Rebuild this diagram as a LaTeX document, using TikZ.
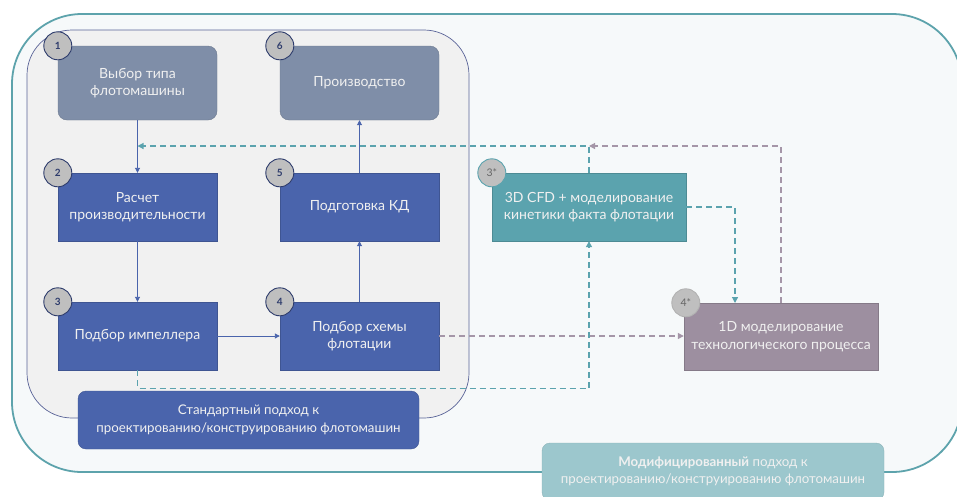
\documentclass[tikz,border=0pt]{standalone}
\usepackage{fontspec}
\setmainfont{Lato}
\usetikzlibrary{arrows.meta,calc}
\definecolor{bluebox}{HTML}{4A64AC}
\definecolor{greybox}{HTML}{7F8EA8}
\definecolor{tealbox}{HTML}{5BA3AE}
\definecolor{mauvebox}{HTML}{9D8FA0}
\definecolor{modbox}{HTML}{9CC7CD}
\definecolor{outerfill}{HTML}{F6F9FA}
\definecolor{outerline}{HTML}{5DA3AC}
\definecolor{innerfill}{HTML}{F1F1F1}
\definecolor{innerline}{HTML}{5A6498}
\definecolor{badgefill}{HTML}{BFBFBF}
\definecolor{badgeline}{HTML}{2E3C6C}
\definecolor{tealdash}{HTML}{5BA3AE}
\definecolor{mauvedash}{HTML}{A596A8}
\begin{document}
\begin{tikzpicture}[x=1pt,y=-1pt,
  box/.style={draw=none,text=white!94!black,align=center,font=\fontsize{14}{17.5}\selectfont,inner sep=0pt},
  labelbox/.style={box,font=\fontsize{13.3}{17.5}\selectfont,rounded corners=8pt,line width=0.4pt},
  stdbox/.style={box,fill=bluebox,draw=bluebox!85!black,line width=0.4pt,minimum width=159pt,minimum height=68pt},
  topbox/.style={box,fill=greybox,draw=greybox!85!black,line width=0.4pt,rounded corners=9pt,minimum width=159pt,minimum height=74pt},
  badge/.style={circle,fill=badgefill,draw=badgeline,line width=0.9pt,minimum size=28pt,inner sep=0pt,font=\bfseries\fontsize{10}{11}\selectfont,text=badgeline},
  sbadge/.style={circle,fill=badgefill,line width=0.9pt,minimum size=28pt,inner sep=0pt,font=\fontsize{10.5}{11}\selectfont,text=black!60},
  solidarrow/.style={draw=bluebox,line width=0.9pt,-{Triangle[width=5pt,length=5pt]}},
  tdash/.style={draw=tealdash,line width=1.2pt,dash pattern=on 6pt off 4pt,-{Triangle[width=6pt,length=6pt]}},
  mdash/.style={draw=mauvedash,line width=1.2pt,dash pattern=on 6pt off 4pt,-{Triangle[width=6pt,length=6pt]}}
]
\clip (0,0) rectangle (957,496);
\fill[white] (0,0) rectangle (957,496);
% outer modified frame
\draw[fill=outerfill,draw=outerline,line width=1.8pt,rounded corners=70pt] (12,14) rectangle (962,472);
% inner standard frame
\draw[fill=innerfill,draw=innerline,line width=0.7pt,rounded corners=45pt] (27,30) rectangle (469,418);

% boxes
\node[topbox] (b1) at (137.5,83) {Выбор типа\\флотомашины};
\node[topbox] (b6) at (359.5,83) {Производство};
\node[stdbox] (b2) at (137.5,207) {Расчет\\производительности};
\node[stdbox] (b5) at (359.5,207) {Подготовка КД};
\node[stdbox] (b3) at (137.5,336) {Подбор импеллера};
\node[stdbox] (b4) at (359.5,336) {Подбор схемы\\флотации};
\node[box,fill=tealbox,draw=tealbox!85!black,line width=0.4pt,minimum width=194pt,minimum height=68pt] (s3) at (589,207) {3D CFD + моделирование\\кинетики факта флотации};
\node[box,fill=mauvebox,draw=mauvebox!85!black,line width=0.4pt,minimum width=194pt,minimum height=67pt] (s4) at (781,336.5) {1D моделирование\\технологического процесса};

% solid arrows
\draw[solidarrow] (b1) -- (b2);
\draw[solidarrow] (b2) -- (b3);
\draw[solidarrow] (b3) -- (b4);
\draw[solidarrow] (b4) -- (b5);
\draw[solidarrow] (b5) -- (b6);

% dashed connectors
\coordinate (j1) at (137.5,146);
\coordinate (j2) at (589,146);
\coordinate (j3) at (735,303);
\draw[tdash] (s3.north) |- (j1);
\draw[mdash] (s4.north) |- (j2);
\draw[tdash] (s3.east) -| (j3);
\draw[mdash] (b4.east) -- (b4.east -| s4.west);
\draw[tdash] (b3.south) -- ++(0,18) -| (s3.south);

% label boxes
\node[labelbox,fill=bluebox,draw=bluebox!85!black,minimum width=341pt,minimum height=58pt] (std) at (248.5,420) {Стандартный подход к\\проектированию/конструированию флотомашин};
\node[labelbox,fill=modbox,draw=modbox!90!black,minimum width=342pt,minimum height=57pt] (mod) at (713,471.5) {{\bfseries Модифицированный} подход к\\проектированию/конструированию флотомашин};

% badges
\node[badge] (n1) at (b1.north west) {1};
\node[badge] (n6) at (b6.north west) {6};
\node[badge] (n2) at (b2.north west) {2};
\node[badge] (n5) at (b5.north west) {5};
\node[badge] (n3) at (b3.north west) {3};
\node[badge] (n4) at (b4.north west) {4};
\node[sbadge,draw=tealbox] (n3s) at (s3.north west) {3*};
\node[sbadge,draw=black!30] (n4s) at ($(s4.north west)+(2,0)$) {4*};
\end{tikzpicture}
\end{document}
